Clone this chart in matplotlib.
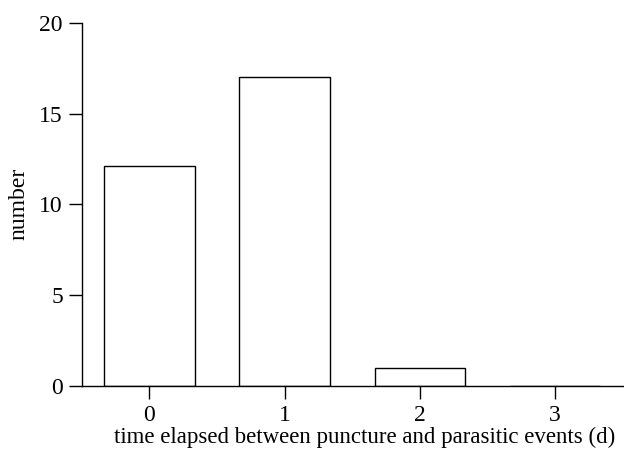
import matplotlib
matplotlib.use("Agg")
import matplotlib.pyplot as plt

# days between puncture and parasitic events
days = [0, 1, 2, 3]
counts = [12.1, 17, 1, 0]

plt.rcParams['font.family'] = ['Liberation Serif', 'DejaVu Serif']

fig = plt.figure(figsize=(6.24, 4.55), dpi=100)
ax = fig.add_axes([0.131, 0.152, 0.867, 0.798])

ax.bar(days, counts, width=0.67, facecolor='white', edgecolor='black', linewidth=1.0)

ax.set_xlim(-0.5, 3.5)
ax.set_ylim(0, 20)
ax.set_xticks(days)
ax.set_yticks([0, 5, 10, 15, 20])

ax.spines['top'].set_visible(False)
ax.spines['right'].set_visible(False)
for s in ['left', 'bottom']:
    ax.spines[s].set_linewidth(1.0)

ax.tick_params(direction='out', length=9.5, width=1.0, labelsize=17, pad=4)

ax.set_xlabel('time elapsed between puncture and parasitic events (d)', fontsize=16.5, labelpad=1)
ax.xaxis.label.set_x(0.522)
ax.set_ylabel('number', fontsize=17, labelpad=7)

fig.savefig('out.png', dpi=100)
